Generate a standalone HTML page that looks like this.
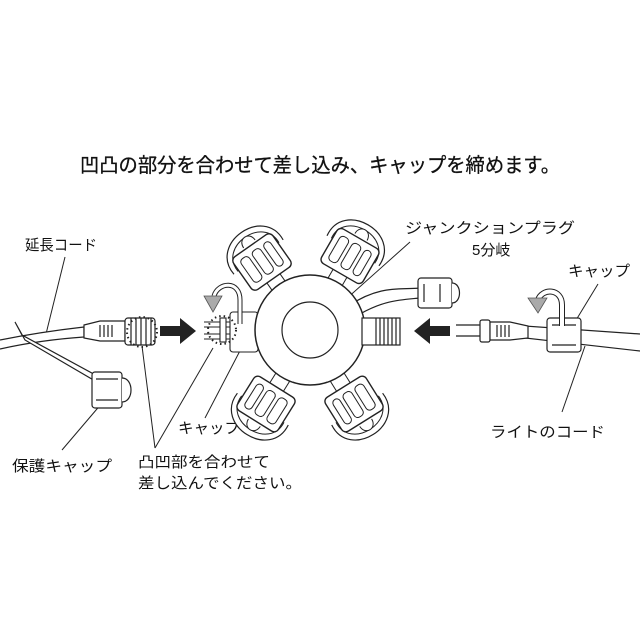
<!DOCTYPE html>
<html><head><meta charset="utf-8"><style>
html,body{margin:0;padding:0;background:#fff}
svg{display:block}
text{font-family:"Liberation Sans","Noto Sans CJK JP",sans-serif;fill:#111}
</style></head><body>
<svg width="640" height="640" viewBox="0 0 640 640" xmlns="http://www.w3.org/2000/svg">
<defs>
<g id="petal">
  <path d="M-30,-6 C-34,-46 34,-46 30,-6" fill="#fff" stroke="#222" stroke-width="1.2"/>
  <path d="M-25,-6 C-28,-38 28,-38 25,-6" fill="none" stroke="#222" stroke-width="1"/>
  <path d="M-8,18 L-8,36 M8,18 L8,36" stroke="#222"/>
  <rect x="-24" y="-20" width="48" height="40" rx="5" fill="#fff" stroke="#222" stroke-width="1.4"/>
  <rect x="-18" y="-14" width="10" height="28" rx="4" fill="none" stroke="#222"/>
  <rect x="-4" y="-14" width="10" height="28" rx="4" fill="none" stroke="#222"/>
  <rect x="10" y="-14" width="8" height="28" rx="4" fill="none" stroke="#222"/>
  <path d="M-7,-22 C-7,-33 7,-33 7,-22" fill="#fff" stroke="#222"/>
</g>
</defs>

<text x="320" y="172" font-size="20" text-anchor="middle" textLength="480" lengthAdjust="spacingAndGlyphs" stroke="#111" stroke-width="0.3">凹凸の部分を合わせて差し込み、キャップを締めます。</text>

<text x="25" y="250" font-size="15" textLength="72" lengthAdjust="spacingAndGlyphs">延長コード</text>
<text x="405" y="233" font-size="15" textLength="170" lengthAdjust="spacingAndGlyphs">ジャンクションプラグ</text>
<text x="472" y="255" font-size="15">5分岐</text>
<text x="568" y="276" font-size="15" textLength="62" lengthAdjust="spacingAndGlyphs">キャップ</text>
<text x="178" y="433" font-size="15" textLength="62" lengthAdjust="spacingAndGlyphs">キャップ</text>
<text x="490" y="437" font-size="15" textLength="115" lengthAdjust="spacingAndGlyphs">ライトのコード</text>
<text x="12" y="471" font-size="15" textLength="100" lengthAdjust="spacingAndGlyphs">保護キャップ</text>
<text x="138" y="467" font-size="15" textLength="132" lengthAdjust="spacingAndGlyphs">凸凹部を合わせて</text>
<text x="138" y="488" font-size="15" textLength="164" lengthAdjust="spacingAndGlyphs">差し込んでください。</text>

<g stroke="#222" stroke-width="1" fill="none">
<path d="M65,257 L45,338"/>
<path d="M410,242 L345,300"/>
<path d="M598,284 L570,330"/>
<path d="M562,412 L585,346"/>
<path d="M205,418 L243,345"/>
<path d="M62,450 L108,396"/>
<path d="M155,448 L142,346"/>
<path d="M155,448 L213,348"/>
</g>

<g stroke="#222" stroke-width="1.2" fill="#fff">
<path d="M0,340 Q40,332 84,327 L84,337 Q40,340 0,349" />
<path d="M15,322 L22,335 L112,384 L114,392 L25,340 Z" />
<rect x="92" y="372" width="30" height="36" rx="3"/>
<path d="M122,378 C134,378 134,402 122,402"/>
<path d="M96,379 H118 M96,400 H118"/>
<path d="M84,325 L100,321 L125,321 L125,341 L100,341 L84,338 Z"/>
<path d="M100,325 V337 M104,325 V337 M108,325 V337 M112,325 V337"/>
<rect x="125" y="318" width="30" height="27" rx="3"/>
<path d="M131,318 V345 M136,318 V345 M141,318 V345 M146,318 V345 M151,318 V345"/>
</g>
<circle cx="142" cy="332" r="15" fill="none" stroke="#222" stroke-width="2" stroke-dasharray="1.5 3"/>

<path d="M160,326 L180,326 L180,318 L196,331 L180,344 L180,336 L160,336 Z" fill="#222"/>
<path d="M450,326 L430,326 L430,318 L414,331 L430,344 L430,336 L450,336 Z" fill="#222"/>

<use href="#petal" transform="translate(262,262) rotate(-35)"/>
<use href="#petal" transform="translate(350,256) rotate(30)"/>
<use href="#petal" transform="translate(266,404) rotate(-148)"/>
<use href="#petal" transform="translate(354,404) rotate(148)"/>

<g stroke="#222" stroke-width="1.1" fill="#fff">
<path d="M204,322 H245 M204,327 H245 M204,334 H245 M204,339 H245"/>
<rect x="220" y="318" width="6" height="24"/>
<rect x="230" y="312" width="28" height="40" rx="3"/>
<path d="M240,324 L240,300 C240,280 218,282 214,296" fill="none" stroke-width="5" stroke="#222"/>
<path d="M240,324 L240,300 C240,280 218,282 214,296" fill="none" stroke-width="3" stroke="#fff"/>
</g>
<path d="M204,296 L222,296 L213,312 Z" fill="#aaa" stroke="#555" stroke-width="0.8"/>
<circle cx="222" cy="330" r="14" fill="none" stroke="#222" stroke-width="2" stroke-dasharray="1.5 3"/>

<g stroke="#222" stroke-width="1.2" fill="#fff">
<path d="M350,305 C380,285 400,290 420,288 L420,298 C400,300 385,300 360,314 Z"/>
<rect x="418" y="278" width="34" height="30" rx="3"/>
<path d="M424,284 V302 M440,284 V302"/>
<path d="M452,283 C462,283 462,303 452,303"/>
</g>

<circle cx="310" cy="330" r="55" fill="#fff" stroke="#222" stroke-width="1.5"/>
<circle cx="310" cy="330" r="28" fill="#fff" stroke="#222" stroke-width="1.2"/>
<g stroke="#222" stroke-width="1.2" fill="#fff">
<rect x="362" y="318" width="38" height="27"/>
<path d="M376,318 V345 M380,318 V345 M384,318 V345 M388,318 V345 M392,318 V345 M396,318 V345"/>
</g>

<g stroke="#222" stroke-width="1.2" fill="#fff">
<path d="M640,334 L525,326 L525,338 L640,351"/>
<path d="M456,325 H482 M456,336 H482"/>
<rect x="480" y="320" width="10" height="22" rx="2"/>
<path d="M490,322 L510,322 L528,326 L528,338 L510,340 L490,340 Z"/>
<path d="M497,325 V337 M501,325 V337 M505,325 V337 M509,325 V337"/>
<rect x="547" y="318" width="34" height="34" rx="3"/>
<path d="M552,325 H576 M552,345 H576"/>
<path d="M562,326 L562,305 C562,288 542,288 538,300" fill="none" stroke-width="6" stroke="#222"/>
<path d="M562,326 L562,305 C562,288 542,288 538,300" fill="none" stroke-width="4" stroke="#fff"/>
</g>
<path d="M528,298 L547,298 L538,313 Z" fill="#aaa" stroke="#555" stroke-width="0.8"/>
</svg>
</body></html>
